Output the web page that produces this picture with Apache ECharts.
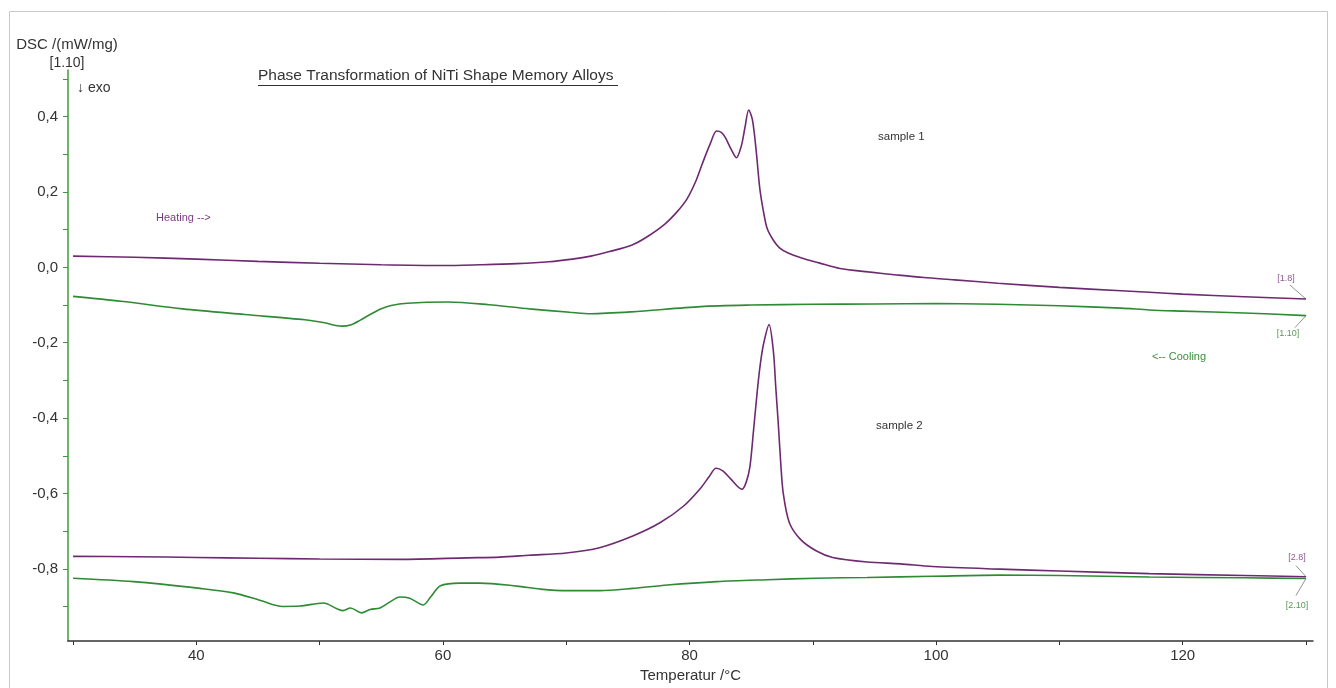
<!DOCTYPE html>
<html>
<head>
<meta charset="utf-8">
<script src="https://cdn.jsdelivr.net/npm/echarts@6/dist/echarts.min.js"></script>
<style>html,body{margin:0;padding:0;background:#fff;}#c{width:1336px;height:688px;}</style>
</head>
<body>
<div id="c"></div>
<script>
// ---- data (temperature °C, DSC mW/mg) ----
var heat1 = [[30,0.030],[35,0.027],[40,0.022],[45,0.016],[50,0.011],[55,0.007],[60,0.005],[63,0.007],[66,0.010],[68.6,0.015],[70.5,0.022],[72,0.030],[73.5,0.042],[75.3,0.059],[76.5,0.080],[78,0.115],[79,0.148],[79.8,0.182],[80.5,0.228],[81,0.272],[81.7,0.330],[82.2,0.362],[82.6,0.358],[82.9,0.345],[83.4,0.312],[83.8,0.291],[84.2,0.322],[84.5,0.372],[84.8,0.418],[85.1,0.392],[85.4,0.312],[85.7,0.210],[86.0,0.148],[86.3,0.103],[86.8,0.072],[87.3,0.052],[88,0.038],[89.1,0.025],[90.5,0.012],[92.2,-0.003],[94.5,-0.012],[96.8,-0.020],[99,-0.027],[101.5,-0.033],[105,-0.042],[110,-0.053],[115,-0.062],[117.3,-0.066],[120,-0.071],[125,-0.078],[130,-0.084]];
var cool1 = [[30,-0.077],[33.9,-0.090],[38.9,-0.110],[43.9,-0.125],[48.8,-0.139],[50.4,-0.147],[51.3,-0.154],[51.8,-0.156],[52.5,-0.153],[53.3,-0.140],[54.1,-0.125],[55.0,-0.110],[55.8,-0.101],[57.1,-0.095],[60.4,-0.092],[63.7,-0.099],[67,-0.110],[70.3,-0.119],[72,-0.123],[75.3,-0.118],[80.9,-0.104],[85,-0.100],[90,-0.098],[95,-0.097],[100,-0.096],[105,-0.098],[110,-0.102],[115,-0.108],[117.3,-0.113],[120,-0.116],[125,-0.121],[130,-0.128]];
var heat2 = [[30,-0.767],[35,-0.768],[40,-0.770],[45,-0.772],[50,-0.774],[56.5,-0.775],[62,-0.771],[64.6,-0.769],[67,-0.764],[70,-0.758],[72.7,-0.744],[75.4,-0.713],[77.6,-0.678],[79.5,-0.634],[80.9,-0.586],[81.6,-0.555],[82.15,-0.533],[82.7,-0.540],[83.3,-0.560],[84.25,-0.589],[84.6,-0.570],[84.9,-0.529],[85.2,-0.430],[85.5,-0.327],[85.75,-0.255],[86.0,-0.204],[86.45,-0.152],[86.8,-0.222],[87.0,-0.320],[87.2,-0.415],[87.4,-0.520],[87.6,-0.599],[88.1,-0.678],[89.0,-0.722],[90.3,-0.753],[91.6,-0.770],[94.4,-0.782],[97.1,-0.787],[99.7,-0.794],[105.2,-0.801],[110,-0.806],[117.3,-0.813],[125,-0.818],[130,-0.821]];
var cool2 = [[30,-0.825],[34.9,-0.834],[40.3,-0.852],[43,-0.864],[45.2,-0.884],[47,-0.900],[48.4,-0.899],[50.3,-0.891],[51.4,-0.906],[51.9,-0.911],[52.5,-0.904],[53.4,-0.917],[54.1,-0.908],[54.9,-0.904],[55.7,-0.888],[56.5,-0.875],[57.3,-0.878],[58.4,-0.896],[59.0,-0.875],[59.8,-0.845],[61.4,-0.838],[63,-0.838],[66,-0.846],[67.9,-0.854],[70.1,-0.858],[72.7,-0.858],[75.4,-0.852],[78.2,-0.843],[82.2,-0.834],[86.3,-0.829],[90.3,-0.825],[94.4,-0.823],[99.7,-0.820],[105.2,-0.817],[110,-0.818],[117.3,-0.822],[125,-0.824],[130,-0.826]];
var xTickValues = [30,40,50,60,70,80,90,100,110,120,130];
var xLabelValues = [40,60,80,100,120];
var yTickValues = [-0.9,-0.8,-0.7,-0.6,-0.5,-0.4,-0.3,-0.2,-0.1,0,0.1,0.2,0.3,0.4,0.5];
var yLabelValues = [-0.8,-0.6,-0.4,-0.2,0,0.2,0.4];
var endLabels = ['[1.8]','[1.10]','[2.8]','[2.10]'];

var PURPLE = '#6e2a70', GREEN = '#2f8a34', FONT = 'Liberation Sans, Arial, sans-serif';
var chart = echarts.init(document.getElementById('c'));
function line(d, c){ return {type:'line', data:d, showSymbol:false, symbol:'none', smooth:0.3, lineStyle:{color:c, width:1.6}, animation:false, silent:true}; }
chart.setOption({
  animation:false,
  backgroundColor:'#fff',
  grid:{left:68, right:23, top:70, bottom:42},
  xAxis:{type:'value', min:29.59, max:130.57,
    name:'Temperatur /°C', nameLocation:'middle', nameGap:26,
    nameTextStyle:{color:'#333', fontSize:15, fontFamily:FONT},
    axisLine:{show:true, onZero:false, lineStyle:{color:'#333', width:1.5}},
    axisTick:{show:true, length:4, customValues:xTickValues, lineStyle:{color:'#333'}},
    axisLabel:{customValues:xLabelValues, color:'#333', fontSize:15, fontFamily:FONT, margin:7},
    splitLine:{show:false}},
  yAxis:{type:'value', min:-0.992, max:0.524,
    axisLine:{show:true, onZero:false, lineStyle:{color:'#3f9a3f', width:1.5}},
    axisTick:{show:true, length:5, customValues:yTickValues, lineStyle:{color:'#3f9a3f'}},
    axisLabel:{customValues:yLabelValues, color:'#333', fontSize:15, fontFamily:FONT, margin:10,
      formatter:function(v){ return v.toFixed(1).replace('.', ','); }},
    splitLine:{show:false}},
  series:[line(heat1, PURPLE), line(cool1, GREEN), line(heat2, PURPLE), line(cool2, GREEN)]
});

var g = [
  {type:'rect', shape:{x:9.5, y:11.5, width:1318, height:700}, style:{fill:'none', stroke:'#c8c8c8', lineWidth:1}, silent:true},
  {type:'text', x:67, y:45, style:{text:'DSC /(mW/mg)', fill:'#333', font:'15px '+FONT, align:'center', verticalAlign:'middle'}},
  {type:'text', x:67, y:63, style:{text:'[1.10]', fill:'#333', font:'14px '+FONT, align:'center', verticalAlign:'middle'}},
  {type:'text', x:77, y:88, style:{text:'↓ exo', fill:'#333', font:'14px '+FONT, align:'left', verticalAlign:'middle'}},
  {type:'text', x:258, y:76, style:{text:'Phase Transformation of NiTi Shape Memory Alloys', fill:'#333', font:'15.5px '+FONT, align:'left', verticalAlign:'middle'}},
  {type:'line', shape:{x1:258, y1:85.5, x2:618, y2:85.5}, style:{stroke:'#333', lineWidth:1}},
  {type:'text', x:878, y:137, style:{text:'sample 1', fill:'#333', font:'11.5px '+FONT, align:'left', verticalAlign:'middle'}},
  {type:'text', x:876, y:426, style:{text:'sample 2', fill:'#333', font:'11.5px '+FONT, align:'left', verticalAlign:'middle'}},
  {type:'text', x:156, y:218, style:{text:'Heating -->', fill:'#7a3a82', font:'11px '+FONT, align:'left', verticalAlign:'middle'}},
  {type:'text', x:1152, y:357, style:{text:'<-- Cooling', fill:'#3a8f3a', font:'11px '+FONT, align:'left', verticalAlign:'middle'}}
];
// end labels with leader lines anchored at each curve's last point
var ends = [heat1, cool1, heat2, cool2];
var offs = [[-16,-14,-20,-21],[-11,12,-18,18],[-10,-11,-9,-19],[-10,17,-9,27]];
var cols = ['#8a5a8e','#5a9a5a','#8a5a8e','#5a9a5a'];
ends.forEach(function(d, i){
  var p = chart.convertToPixel({gridIndex:0}, d[d.length-1]);
  var o = offs[i];
  g.push({type:'line', shape:{x1:p[0], y1:p[1], x2:p[0]+o[0], y2:p[1]+o[1]}, style:{stroke:'#777', lineWidth:0.8}});
  g.push({type:'text', x:p[0]+o[2], y:p[1]+o[3], style:{text:endLabels[i], fill:cols[i], font:'9px '+FONT, align:'center', verticalAlign:'middle'}});
});
chart.setOption({graphic:g});
</script>
</body>
</html>
